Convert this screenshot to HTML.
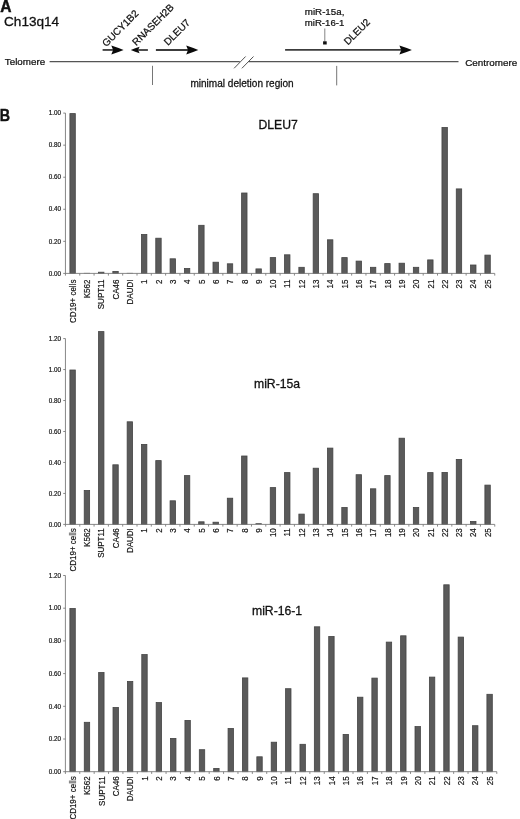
<!DOCTYPE html>
<html><head><meta charset="utf-8"><style>
html,body{margin:0;padding:0;background:#fff;}
body{width:520px;height:819px;overflow:hidden;font-family:"Liberation Sans", sans-serif;}
svg{display:block;filter:grayscale(1);}
</style></head><body>
<svg width="520" height="819" viewBox="0 0 520 819" font-family='"Liberation Sans", sans-serif'><text x="0.2" y="11.6" font-size="15.6" font-weight="bold" fill="#111" stroke="#111" stroke-width="0.45" >A</text>
<text x="4" y="26" font-size="13.6" fill="#111" stroke="#111" stroke-width="0.3" >Ch13q14</text>
<text x="4.8" y="65.4" font-size="9.8" fill="#111" stroke="#111" stroke-width="0.245" >Telomere</text>
<text x="465.2" y="65.8" font-size="9.85" fill="#111" stroke="#111" stroke-width="0.246" >Centromere</text>
<line x1="49.6" y1="61.6" x2="239.8" y2="61.6" stroke="#555" stroke-width="1.3"/>
<line x1="248.6" y1="61.6" x2="458.5" y2="61.6" stroke="#555" stroke-width="1.3"/>
<line x1="234.1" y1="68.3" x2="245.6" y2="56.5" stroke="#4a4a4a" stroke-width="0.95"/>
<line x1="241.9" y1="68.3" x2="253.5" y2="56.5" stroke="#4a4a4a" stroke-width="0.95"/>
<line x1="152.5" y1="65.8" x2="152.5" y2="85" stroke="#666" stroke-width="0.9"/>
<line x1="336.7" y1="65.9" x2="336.7" y2="85.4" stroke="#666" stroke-width="0.9"/>
<text x="190.4" y="86.9" font-size="10.05" fill="#111" stroke="#111" stroke-width="0.251" >minimal deletion region</text>
<line x1="102.6" y1="49.95" x2="113.10" y2="49.95" stroke="#3c3c3c" stroke-width="1.8"/><path d="M123.6,49.95 Q117.45,47.43 111.30,45.45 Q112.38,48.15 113.10,49.95 Q112.38,51.75 111.30,54.45 Q117.45,52.47 123.6,49.95 Z" fill="#0a0a0a"/>
<line x1="147.9" y1="50.0" x2="138.20" y2="50.0" stroke="#3c3c3c" stroke-width="1.8"/><path d="M130.8,50.0 Q135.20,48.21 139.60,46.80 Q138.76,48.72 138.20,50.0 Q138.76,51.28 139.60,53.20 Q135.20,51.79 130.8,50.0 Z" fill="#0a0a0a"/>
<line x1="155.9" y1="50.0" x2="188.00" y2="50.0" stroke="#3c3c3c" stroke-width="1.8"/><path d="M198.3,50.0 Q192.25,47.48 186.20,45.50 Q187.28,48.20 188.00,50.0 Q187.28,51.80 186.20,54.50 Q192.25,52.52 198.3,50.0 Z" fill="#0a0a0a"/>
<line x1="285.1" y1="49.95" x2="401.20" y2="49.95" stroke="#3c3c3c" stroke-width="1.8"/><path d="M411.9,49.95 Q405.65,47.43 399.40,45.45 Q400.48,48.15 401.20,49.95 Q400.48,51.75 399.40,54.45 Q405.65,52.47 411.9,49.95 Z" fill="#0a0a0a"/>
<line x1="324.8" y1="28.5" x2="324.8" y2="41.5" stroke="#666" stroke-width="0.8"/>
<rect x="323.1" y="41.3" width="3.6" height="3.2" fill="#111"/>
<text x="304.8" y="14.9" font-size="9.75" fill="#111" stroke="#111" stroke-width="0.244" >miR-15a,</text>
<text x="304.8" y="25.5" font-size="9.6" fill="#111" stroke="#111" stroke-width="0.24" >miR-16-1</text>
<text x="0" y="0" font-size="10" fill="#111" stroke="#111" stroke-width="0.25" transform="translate(106.2 47.2) rotate(-45)">GUCY1B2</text>
<text x="0" y="0" font-size="10" fill="#111" stroke="#111" stroke-width="0.25" transform="translate(136.3 46.2) rotate(-45)">RNASEH2B</text>
<text x="0" y="0" font-size="10" fill="#111" stroke="#111" stroke-width="0.25" transform="translate(168.0 46.0) rotate(-45)">DLEU7</text>
<text x="0" y="0" font-size="10" fill="#111" stroke="#111" stroke-width="0.25" transform="translate(348.0 45.5) rotate(-45)">DLEU2</text>
<text x="0" y="0" font-size="17.2" font-weight="bold" fill="#111" stroke="#111" stroke-width="0.45" transform="translate(-0.2 120.5) scale(0.83 1)">B</text>
<rect x="69.91" y="113.60" width="5.40" height="159.80" fill="#5a5a5a" stroke="#444" stroke-width="0.8"/>
<rect x="83.82" y="272.90" width="6.2" height="0.50" fill="#484848"/>
<rect x="98.53" y="272.20" width="5.40" height="1.20" fill="#5a5a5a" stroke="#444" stroke-width="0.8"/>
<rect x="112.84" y="271.40" width="5.40" height="2.00" fill="#5a5a5a" stroke="#444" stroke-width="0.8"/>
<rect x="126.75" y="272.90" width="6.2" height="0.50" fill="#484848"/>
<rect x="141.46" y="234.50" width="5.40" height="38.90" fill="#5a5a5a" stroke="#444" stroke-width="0.8"/>
<rect x="155.77" y="238.20" width="5.40" height="35.20" fill="#5a5a5a" stroke="#444" stroke-width="0.8"/>
<rect x="170.08" y="258.80" width="5.40" height="14.60" fill="#5a5a5a" stroke="#444" stroke-width="0.8"/>
<rect x="184.39" y="268.50" width="5.40" height="4.90" fill="#5a5a5a" stroke="#444" stroke-width="0.8"/>
<rect x="198.69" y="225.30" width="5.40" height="48.10" fill="#5a5a5a" stroke="#444" stroke-width="0.8"/>
<rect x="213.00" y="262.20" width="5.40" height="11.20" fill="#5a5a5a" stroke="#444" stroke-width="0.8"/>
<rect x="227.31" y="263.80" width="5.40" height="9.60" fill="#5a5a5a" stroke="#444" stroke-width="0.8"/>
<rect x="241.62" y="193.00" width="5.40" height="80.40" fill="#5a5a5a" stroke="#444" stroke-width="0.8"/>
<rect x="255.94" y="268.90" width="5.40" height="4.50" fill="#5a5a5a" stroke="#444" stroke-width="0.8"/>
<rect x="270.24" y="257.60" width="5.40" height="15.80" fill="#5a5a5a" stroke="#444" stroke-width="0.8"/>
<rect x="284.55" y="254.80" width="5.40" height="18.60" fill="#5a5a5a" stroke="#444" stroke-width="0.8"/>
<rect x="298.86" y="267.30" width="5.40" height="6.10" fill="#5a5a5a" stroke="#444" stroke-width="0.8"/>
<rect x="313.17" y="193.70" width="5.40" height="79.70" fill="#5a5a5a" stroke="#444" stroke-width="0.8"/>
<rect x="327.48" y="239.80" width="5.40" height="33.60" fill="#5a5a5a" stroke="#444" stroke-width="0.8"/>
<rect x="341.79" y="257.60" width="5.40" height="15.80" fill="#5a5a5a" stroke="#444" stroke-width="0.8"/>
<rect x="356.10" y="261.10" width="5.40" height="12.30" fill="#5a5a5a" stroke="#444" stroke-width="0.8"/>
<rect x="370.41" y="267.30" width="5.40" height="6.10" fill="#5a5a5a" stroke="#444" stroke-width="0.8"/>
<rect x="384.72" y="263.60" width="5.40" height="9.80" fill="#5a5a5a" stroke="#444" stroke-width="0.8"/>
<rect x="399.03" y="263.20" width="5.40" height="10.20" fill="#5a5a5a" stroke="#444" stroke-width="0.8"/>
<rect x="413.34" y="267.30" width="5.40" height="6.10" fill="#5a5a5a" stroke="#444" stroke-width="0.8"/>
<rect x="427.65" y="259.90" width="5.40" height="13.50" fill="#5a5a5a" stroke="#444" stroke-width="0.8"/>
<rect x="441.96" y="127.50" width="5.40" height="145.90" fill="#5a5a5a" stroke="#444" stroke-width="0.8"/>
<rect x="456.27" y="188.90" width="5.40" height="84.50" fill="#5a5a5a" stroke="#444" stroke-width="0.8"/>
<rect x="470.58" y="265.00" width="5.40" height="8.40" fill="#5a5a5a" stroke="#444" stroke-width="0.8"/>
<rect x="484.89" y="255.10" width="5.40" height="18.30" fill="#5a5a5a" stroke="#444" stroke-width="0.8"/>
<line x1="65.45" y1="113.10" x2="65.45" y2="273.4" stroke="#7a7a7a" stroke-width="0.9"/>
<line x1="63.25" y1="273.40" x2="65.45" y2="273.40" stroke="#7a7a7a" stroke-width="0.9"/>
<text x="60.9" y="275.6" font-size="6.3" fill="#111" stroke="#111" stroke-width="0.18" text-anchor="end">0.00</text>
<line x1="63.25" y1="241.34" x2="65.45" y2="241.34" stroke="#7a7a7a" stroke-width="0.9"/>
<text x="60.9" y="243.54" font-size="6.3" fill="#111" stroke="#111" stroke-width="0.18" text-anchor="end">0.20</text>
<line x1="63.25" y1="209.28" x2="65.45" y2="209.28" stroke="#7a7a7a" stroke-width="0.9"/>
<text x="60.9" y="211.48" font-size="6.3" fill="#111" stroke="#111" stroke-width="0.18" text-anchor="end">0.40</text>
<line x1="63.25" y1="177.22" x2="65.45" y2="177.22" stroke="#7a7a7a" stroke-width="0.9"/>
<text x="60.9" y="179.42" font-size="6.3" fill="#111" stroke="#111" stroke-width="0.18" text-anchor="end">0.60</text>
<line x1="63.25" y1="145.16" x2="65.45" y2="145.16" stroke="#7a7a7a" stroke-width="0.9"/>
<text x="60.9" y="147.36" font-size="6.3" fill="#111" stroke="#111" stroke-width="0.18" text-anchor="end">0.80</text>
<line x1="63.25" y1="113.10" x2="65.45" y2="113.10" stroke="#7a7a7a" stroke-width="0.9"/>
<text x="60.9" y="115.3" font-size="6.3" fill="#111" stroke="#111" stroke-width="0.18" text-anchor="end">1.00</text>
<line x1="65.0" y1="273.4" x2="494.75" y2="273.4" stroke="#7a7a7a" stroke-width="0.9"/>
<line x1="65.45" y1="273.4" x2="65.45" y2="275.59999999999997" stroke="#7a7a7a" stroke-width="0.9"/>
<line x1="79.76" y1="273.4" x2="79.76" y2="275.59999999999997" stroke="#7a7a7a" stroke-width="0.9"/>
<line x1="94.07" y1="273.4" x2="94.07" y2="275.59999999999997" stroke="#7a7a7a" stroke-width="0.9"/>
<line x1="108.38" y1="273.4" x2="108.38" y2="275.59999999999997" stroke="#7a7a7a" stroke-width="0.9"/>
<line x1="122.69" y1="273.4" x2="122.69" y2="275.59999999999997" stroke="#7a7a7a" stroke-width="0.9"/>
<line x1="137.00" y1="273.4" x2="137.00" y2="275.59999999999997" stroke="#7a7a7a" stroke-width="0.9"/>
<line x1="151.31" y1="273.4" x2="151.31" y2="275.59999999999997" stroke="#7a7a7a" stroke-width="0.9"/>
<line x1="165.62" y1="273.4" x2="165.62" y2="275.59999999999997" stroke="#7a7a7a" stroke-width="0.9"/>
<line x1="179.93" y1="273.4" x2="179.93" y2="275.59999999999997" stroke="#7a7a7a" stroke-width="0.9"/>
<line x1="194.24" y1="273.4" x2="194.24" y2="275.59999999999997" stroke="#7a7a7a" stroke-width="0.9"/>
<line x1="208.55" y1="273.4" x2="208.55" y2="275.59999999999997" stroke="#7a7a7a" stroke-width="0.9"/>
<line x1="222.86" y1="273.4" x2="222.86" y2="275.59999999999997" stroke="#7a7a7a" stroke-width="0.9"/>
<line x1="237.17" y1="273.4" x2="237.17" y2="275.59999999999997" stroke="#7a7a7a" stroke-width="0.9"/>
<line x1="251.48" y1="273.4" x2="251.48" y2="275.59999999999997" stroke="#7a7a7a" stroke-width="0.9"/>
<line x1="265.79" y1="273.4" x2="265.79" y2="275.59999999999997" stroke="#7a7a7a" stroke-width="0.9"/>
<line x1="280.10" y1="273.4" x2="280.10" y2="275.59999999999997" stroke="#7a7a7a" stroke-width="0.9"/>
<line x1="294.41" y1="273.4" x2="294.41" y2="275.59999999999997" stroke="#7a7a7a" stroke-width="0.9"/>
<line x1="308.72" y1="273.4" x2="308.72" y2="275.59999999999997" stroke="#7a7a7a" stroke-width="0.9"/>
<line x1="323.03" y1="273.4" x2="323.03" y2="275.59999999999997" stroke="#7a7a7a" stroke-width="0.9"/>
<line x1="337.34" y1="273.4" x2="337.34" y2="275.59999999999997" stroke="#7a7a7a" stroke-width="0.9"/>
<line x1="351.65" y1="273.4" x2="351.65" y2="275.59999999999997" stroke="#7a7a7a" stroke-width="0.9"/>
<line x1="365.96" y1="273.4" x2="365.96" y2="275.59999999999997" stroke="#7a7a7a" stroke-width="0.9"/>
<line x1="380.27" y1="273.4" x2="380.27" y2="275.59999999999997" stroke="#7a7a7a" stroke-width="0.9"/>
<line x1="394.58" y1="273.4" x2="394.58" y2="275.59999999999997" stroke="#7a7a7a" stroke-width="0.9"/>
<line x1="408.89" y1="273.4" x2="408.89" y2="275.59999999999997" stroke="#7a7a7a" stroke-width="0.9"/>
<line x1="423.20" y1="273.4" x2="423.20" y2="275.59999999999997" stroke="#7a7a7a" stroke-width="0.9"/>
<line x1="437.51" y1="273.4" x2="437.51" y2="275.59999999999997" stroke="#7a7a7a" stroke-width="0.9"/>
<line x1="451.82" y1="273.4" x2="451.82" y2="275.59999999999997" stroke="#7a7a7a" stroke-width="0.9"/>
<line x1="466.13" y1="273.4" x2="466.13" y2="275.59999999999997" stroke="#7a7a7a" stroke-width="0.9"/>
<line x1="480.44" y1="273.4" x2="480.44" y2="275.59999999999997" stroke="#7a7a7a" stroke-width="0.9"/>
<line x1="494.75" y1="273.4" x2="494.75" y2="275.59999999999997" stroke="#7a7a7a" stroke-width="0.9"/>
<text x="0" y="0" font-size="8" fill="#111" stroke="#111" stroke-width="0.16" text-anchor="end" transform="translate(75.81 279.60) rotate(-90) scale(1 1.12)">CD19+ cells</text>
<text x="0" y="0" font-size="8" fill="#111" stroke="#111" stroke-width="0.16" text-anchor="end" transform="translate(90.12 279.60) rotate(-90) scale(1 1.12)">K562</text>
<text x="0" y="0" font-size="8" fill="#111" stroke="#111" stroke-width="0.16" text-anchor="end" transform="translate(104.42 279.60) rotate(-90) scale(1 1.12)">SUPT11</text>
<text x="0" y="0" font-size="8" fill="#111" stroke="#111" stroke-width="0.16" text-anchor="end" transform="translate(118.73 279.60) rotate(-90) scale(1 1.12)">CA46</text>
<text x="0" y="0" font-size="8" fill="#111" stroke="#111" stroke-width="0.16" text-anchor="end" transform="translate(133.04 279.60) rotate(-90) scale(1 1.12)">DAUDI</text>
<text x="0" y="0" font-size="8" fill="#111" stroke="#111" stroke-width="0.16" text-anchor="end" transform="translate(147.35 279.60) rotate(-90) scale(1 1.12)">1</text>
<text x="0" y="0" font-size="8" fill="#111" stroke="#111" stroke-width="0.16" text-anchor="end" transform="translate(161.66 279.60) rotate(-90) scale(1 1.12)">2</text>
<text x="0" y="0" font-size="8" fill="#111" stroke="#111" stroke-width="0.16" text-anchor="end" transform="translate(175.97 279.60) rotate(-90) scale(1 1.12)">3</text>
<text x="0" y="0" font-size="8" fill="#111" stroke="#111" stroke-width="0.16" text-anchor="end" transform="translate(190.28 279.60) rotate(-90) scale(1 1.12)">4</text>
<text x="0" y="0" font-size="8" fill="#111" stroke="#111" stroke-width="0.16" text-anchor="end" transform="translate(204.59 279.60) rotate(-90) scale(1 1.12)">5</text>
<text x="0" y="0" font-size="8" fill="#111" stroke="#111" stroke-width="0.16" text-anchor="end" transform="translate(218.90 279.60) rotate(-90) scale(1 1.12)">6</text>
<text x="0" y="0" font-size="8" fill="#111" stroke="#111" stroke-width="0.16" text-anchor="end" transform="translate(233.21 279.60) rotate(-90) scale(1 1.12)">7</text>
<text x="0" y="0" font-size="8" fill="#111" stroke="#111" stroke-width="0.16" text-anchor="end" transform="translate(247.52 279.60) rotate(-90) scale(1 1.12)">8</text>
<text x="0" y="0" font-size="8" fill="#111" stroke="#111" stroke-width="0.16" text-anchor="end" transform="translate(261.83 279.60) rotate(-90) scale(1 1.12)">9</text>
<text x="0" y="0" font-size="8" fill="#111" stroke="#111" stroke-width="0.16" text-anchor="end" transform="translate(276.14 279.60) rotate(-90) scale(1 1.12)">10</text>
<text x="0" y="0" font-size="8" fill="#111" stroke="#111" stroke-width="0.16" text-anchor="end" transform="translate(290.45 279.60) rotate(-90) scale(1 1.12)">11</text>
<text x="0" y="0" font-size="8" fill="#111" stroke="#111" stroke-width="0.16" text-anchor="end" transform="translate(304.76 279.60) rotate(-90) scale(1 1.12)">12</text>
<text x="0" y="0" font-size="8" fill="#111" stroke="#111" stroke-width="0.16" text-anchor="end" transform="translate(319.07 279.60) rotate(-90) scale(1 1.12)">13</text>
<text x="0" y="0" font-size="8" fill="#111" stroke="#111" stroke-width="0.16" text-anchor="end" transform="translate(333.38 279.60) rotate(-90) scale(1 1.12)">14</text>
<text x="0" y="0" font-size="8" fill="#111" stroke="#111" stroke-width="0.16" text-anchor="end" transform="translate(347.69 279.60) rotate(-90) scale(1 1.12)">15</text>
<text x="0" y="0" font-size="8" fill="#111" stroke="#111" stroke-width="0.16" text-anchor="end" transform="translate(362.00 279.60) rotate(-90) scale(1 1.12)">16</text>
<text x="0" y="0" font-size="8" fill="#111" stroke="#111" stroke-width="0.16" text-anchor="end" transform="translate(376.31 279.60) rotate(-90) scale(1 1.12)">17</text>
<text x="0" y="0" font-size="8" fill="#111" stroke="#111" stroke-width="0.16" text-anchor="end" transform="translate(390.62 279.60) rotate(-90) scale(1 1.12)">18</text>
<text x="0" y="0" font-size="8" fill="#111" stroke="#111" stroke-width="0.16" text-anchor="end" transform="translate(404.94 279.60) rotate(-90) scale(1 1.12)">19</text>
<text x="0" y="0" font-size="8" fill="#111" stroke="#111" stroke-width="0.16" text-anchor="end" transform="translate(419.25 279.60) rotate(-90) scale(1 1.12)">20</text>
<text x="0" y="0" font-size="8" fill="#111" stroke="#111" stroke-width="0.16" text-anchor="end" transform="translate(433.56 279.60) rotate(-90) scale(1 1.12)">21</text>
<text x="0" y="0" font-size="8" fill="#111" stroke="#111" stroke-width="0.16" text-anchor="end" transform="translate(447.87 279.60) rotate(-90) scale(1 1.12)">22</text>
<text x="0" y="0" font-size="8" fill="#111" stroke="#111" stroke-width="0.16" text-anchor="end" transform="translate(462.18 279.60) rotate(-90) scale(1 1.12)">23</text>
<text x="0" y="0" font-size="8" fill="#111" stroke="#111" stroke-width="0.16" text-anchor="end" transform="translate(476.49 279.60) rotate(-90) scale(1 1.12)">24</text>
<text x="0" y="0" font-size="8" fill="#111" stroke="#111" stroke-width="0.16" text-anchor="end" transform="translate(490.80 279.60) rotate(-90) scale(1 1.12)">25</text>
<text x="258.5" y="129.3" font-size="12.2" fill="#111" stroke="#111" stroke-width="0.3" >DLEU7</text>
<rect x="69.91" y="370.00" width="5.40" height="154.40" fill="#5a5a5a" stroke="#444" stroke-width="0.8"/>
<rect x="84.22" y="490.50" width="5.40" height="33.90" fill="#5a5a5a" stroke="#444" stroke-width="0.8"/>
<rect x="98.53" y="331.60" width="5.40" height="192.80" fill="#5a5a5a" stroke="#444" stroke-width="0.8"/>
<rect x="112.84" y="464.80" width="5.40" height="59.60" fill="#5a5a5a" stroke="#444" stroke-width="0.8"/>
<rect x="127.15" y="421.80" width="5.40" height="102.60" fill="#5a5a5a" stroke="#444" stroke-width="0.8"/>
<rect x="141.46" y="444.40" width="5.40" height="80.00" fill="#5a5a5a" stroke="#444" stroke-width="0.8"/>
<rect x="155.77" y="460.60" width="5.40" height="63.80" fill="#5a5a5a" stroke="#444" stroke-width="0.8"/>
<rect x="170.08" y="500.80" width="5.40" height="23.60" fill="#5a5a5a" stroke="#444" stroke-width="0.8"/>
<rect x="184.39" y="475.60" width="5.40" height="48.80" fill="#5a5a5a" stroke="#444" stroke-width="0.8"/>
<rect x="198.69" y="521.80" width="5.40" height="2.60" fill="#5a5a5a" stroke="#444" stroke-width="0.8"/>
<rect x="213.00" y="522.20" width="5.40" height="2.20" fill="#5a5a5a" stroke="#444" stroke-width="0.8"/>
<rect x="227.31" y="498.20" width="5.40" height="26.20" fill="#5a5a5a" stroke="#444" stroke-width="0.8"/>
<rect x="241.62" y="456.00" width="5.40" height="68.40" fill="#5a5a5a" stroke="#444" stroke-width="0.8"/>
<rect x="255.53" y="523.20" width="6.2" height="1.20" fill="#484848"/>
<rect x="270.24" y="487.60" width="5.40" height="36.80" fill="#5a5a5a" stroke="#444" stroke-width="0.8"/>
<rect x="284.55" y="472.60" width="5.40" height="51.80" fill="#5a5a5a" stroke="#444" stroke-width="0.8"/>
<rect x="298.86" y="514.10" width="5.40" height="10.30" fill="#5a5a5a" stroke="#444" stroke-width="0.8"/>
<rect x="313.17" y="468.20" width="5.40" height="56.20" fill="#5a5a5a" stroke="#444" stroke-width="0.8"/>
<rect x="327.48" y="448.10" width="5.40" height="76.30" fill="#5a5a5a" stroke="#444" stroke-width="0.8"/>
<rect x="341.79" y="507.50" width="5.40" height="16.90" fill="#5a5a5a" stroke="#444" stroke-width="0.8"/>
<rect x="356.10" y="474.70" width="5.40" height="49.70" fill="#5a5a5a" stroke="#444" stroke-width="0.8"/>
<rect x="370.41" y="488.80" width="5.40" height="35.60" fill="#5a5a5a" stroke="#444" stroke-width="0.8"/>
<rect x="384.72" y="475.60" width="5.40" height="48.80" fill="#5a5a5a" stroke="#444" stroke-width="0.8"/>
<rect x="399.03" y="438.20" width="5.40" height="86.20" fill="#5a5a5a" stroke="#444" stroke-width="0.8"/>
<rect x="413.34" y="507.50" width="5.40" height="16.90" fill="#5a5a5a" stroke="#444" stroke-width="0.8"/>
<rect x="427.65" y="472.60" width="5.40" height="51.80" fill="#5a5a5a" stroke="#444" stroke-width="0.8"/>
<rect x="441.96" y="472.40" width="5.40" height="52.00" fill="#5a5a5a" stroke="#444" stroke-width="0.8"/>
<rect x="456.27" y="459.40" width="5.40" height="65.00" fill="#5a5a5a" stroke="#444" stroke-width="0.8"/>
<rect x="470.58" y="521.50" width="5.40" height="2.90" fill="#5a5a5a" stroke="#444" stroke-width="0.8"/>
<rect x="484.89" y="485.10" width="5.40" height="39.30" fill="#5a5a5a" stroke="#444" stroke-width="0.8"/>
<line x1="65.45" y1="338.58" x2="65.45" y2="524.4" stroke="#7a7a7a" stroke-width="0.9"/>
<line x1="63.25" y1="524.40" x2="65.45" y2="524.40" stroke="#7a7a7a" stroke-width="0.9"/>
<text x="60.9" y="526.6" font-size="6.3" fill="#111" stroke="#111" stroke-width="0.18" text-anchor="end">0.00</text>
<line x1="63.25" y1="493.43" x2="65.45" y2="493.43" stroke="#7a7a7a" stroke-width="0.9"/>
<text x="60.9" y="495.63" font-size="6.3" fill="#111" stroke="#111" stroke-width="0.18" text-anchor="end">0.20</text>
<line x1="63.25" y1="462.46" x2="65.45" y2="462.46" stroke="#7a7a7a" stroke-width="0.9"/>
<text x="60.9" y="464.66" font-size="6.3" fill="#111" stroke="#111" stroke-width="0.18" text-anchor="end">0.40</text>
<line x1="63.25" y1="431.49" x2="65.45" y2="431.49" stroke="#7a7a7a" stroke-width="0.9"/>
<text x="60.9" y="433.69" font-size="6.3" fill="#111" stroke="#111" stroke-width="0.18" text-anchor="end">0.60</text>
<line x1="63.25" y1="400.52" x2="65.45" y2="400.52" stroke="#7a7a7a" stroke-width="0.9"/>
<text x="60.9" y="402.72" font-size="6.3" fill="#111" stroke="#111" stroke-width="0.18" text-anchor="end">0.80</text>
<line x1="63.25" y1="369.55" x2="65.45" y2="369.55" stroke="#7a7a7a" stroke-width="0.9"/>
<text x="60.9" y="371.75" font-size="6.3" fill="#111" stroke="#111" stroke-width="0.18" text-anchor="end">1.00</text>
<line x1="63.25" y1="338.58" x2="65.45" y2="338.58" stroke="#7a7a7a" stroke-width="0.9"/>
<text x="60.9" y="340.78" font-size="6.3" fill="#111" stroke="#111" stroke-width="0.18" text-anchor="end">1.20</text>
<line x1="65.0" y1="524.4" x2="494.75" y2="524.4" stroke="#7a7a7a" stroke-width="0.9"/>
<line x1="65.45" y1="524.4" x2="65.45" y2="526.6" stroke="#7a7a7a" stroke-width="0.9"/>
<line x1="79.76" y1="524.4" x2="79.76" y2="526.6" stroke="#7a7a7a" stroke-width="0.9"/>
<line x1="94.07" y1="524.4" x2="94.07" y2="526.6" stroke="#7a7a7a" stroke-width="0.9"/>
<line x1="108.38" y1="524.4" x2="108.38" y2="526.6" stroke="#7a7a7a" stroke-width="0.9"/>
<line x1="122.69" y1="524.4" x2="122.69" y2="526.6" stroke="#7a7a7a" stroke-width="0.9"/>
<line x1="137.00" y1="524.4" x2="137.00" y2="526.6" stroke="#7a7a7a" stroke-width="0.9"/>
<line x1="151.31" y1="524.4" x2="151.31" y2="526.6" stroke="#7a7a7a" stroke-width="0.9"/>
<line x1="165.62" y1="524.4" x2="165.62" y2="526.6" stroke="#7a7a7a" stroke-width="0.9"/>
<line x1="179.93" y1="524.4" x2="179.93" y2="526.6" stroke="#7a7a7a" stroke-width="0.9"/>
<line x1="194.24" y1="524.4" x2="194.24" y2="526.6" stroke="#7a7a7a" stroke-width="0.9"/>
<line x1="208.55" y1="524.4" x2="208.55" y2="526.6" stroke="#7a7a7a" stroke-width="0.9"/>
<line x1="222.86" y1="524.4" x2="222.86" y2="526.6" stroke="#7a7a7a" stroke-width="0.9"/>
<line x1="237.17" y1="524.4" x2="237.17" y2="526.6" stroke="#7a7a7a" stroke-width="0.9"/>
<line x1="251.48" y1="524.4" x2="251.48" y2="526.6" stroke="#7a7a7a" stroke-width="0.9"/>
<line x1="265.79" y1="524.4" x2="265.79" y2="526.6" stroke="#7a7a7a" stroke-width="0.9"/>
<line x1="280.10" y1="524.4" x2="280.10" y2="526.6" stroke="#7a7a7a" stroke-width="0.9"/>
<line x1="294.41" y1="524.4" x2="294.41" y2="526.6" stroke="#7a7a7a" stroke-width="0.9"/>
<line x1="308.72" y1="524.4" x2="308.72" y2="526.6" stroke="#7a7a7a" stroke-width="0.9"/>
<line x1="323.03" y1="524.4" x2="323.03" y2="526.6" stroke="#7a7a7a" stroke-width="0.9"/>
<line x1="337.34" y1="524.4" x2="337.34" y2="526.6" stroke="#7a7a7a" stroke-width="0.9"/>
<line x1="351.65" y1="524.4" x2="351.65" y2="526.6" stroke="#7a7a7a" stroke-width="0.9"/>
<line x1="365.96" y1="524.4" x2="365.96" y2="526.6" stroke="#7a7a7a" stroke-width="0.9"/>
<line x1="380.27" y1="524.4" x2="380.27" y2="526.6" stroke="#7a7a7a" stroke-width="0.9"/>
<line x1="394.58" y1="524.4" x2="394.58" y2="526.6" stroke="#7a7a7a" stroke-width="0.9"/>
<line x1="408.89" y1="524.4" x2="408.89" y2="526.6" stroke="#7a7a7a" stroke-width="0.9"/>
<line x1="423.20" y1="524.4" x2="423.20" y2="526.6" stroke="#7a7a7a" stroke-width="0.9"/>
<line x1="437.51" y1="524.4" x2="437.51" y2="526.6" stroke="#7a7a7a" stroke-width="0.9"/>
<line x1="451.82" y1="524.4" x2="451.82" y2="526.6" stroke="#7a7a7a" stroke-width="0.9"/>
<line x1="466.13" y1="524.4" x2="466.13" y2="526.6" stroke="#7a7a7a" stroke-width="0.9"/>
<line x1="480.44" y1="524.4" x2="480.44" y2="526.6" stroke="#7a7a7a" stroke-width="0.9"/>
<line x1="494.75" y1="524.4" x2="494.75" y2="526.6" stroke="#7a7a7a" stroke-width="0.9"/>
<text x="0" y="0" font-size="8" fill="#111" stroke="#111" stroke-width="0.16" text-anchor="end" transform="translate(75.81 528.20) rotate(-90) scale(1 1.12)">CD19+ cells</text>
<text x="0" y="0" font-size="8" fill="#111" stroke="#111" stroke-width="0.16" text-anchor="end" transform="translate(90.12 528.20) rotate(-90) scale(1 1.12)">K562</text>
<text x="0" y="0" font-size="8" fill="#111" stroke="#111" stroke-width="0.16" text-anchor="end" transform="translate(104.42 528.20) rotate(-90) scale(1 1.12)">SUPT11</text>
<text x="0" y="0" font-size="8" fill="#111" stroke="#111" stroke-width="0.16" text-anchor="end" transform="translate(118.73 528.20) rotate(-90) scale(1 1.12)">CA46</text>
<text x="0" y="0" font-size="8" fill="#111" stroke="#111" stroke-width="0.16" text-anchor="end" transform="translate(133.04 528.20) rotate(-90) scale(1 1.12)">DAUDI</text>
<text x="0" y="0" font-size="8" fill="#111" stroke="#111" stroke-width="0.16" text-anchor="end" transform="translate(147.35 528.20) rotate(-90) scale(1 1.12)">1</text>
<text x="0" y="0" font-size="8" fill="#111" stroke="#111" stroke-width="0.16" text-anchor="end" transform="translate(161.66 528.20) rotate(-90) scale(1 1.12)">2</text>
<text x="0" y="0" font-size="8" fill="#111" stroke="#111" stroke-width="0.16" text-anchor="end" transform="translate(175.97 528.20) rotate(-90) scale(1 1.12)">3</text>
<text x="0" y="0" font-size="8" fill="#111" stroke="#111" stroke-width="0.16" text-anchor="end" transform="translate(190.28 528.20) rotate(-90) scale(1 1.12)">4</text>
<text x="0" y="0" font-size="8" fill="#111" stroke="#111" stroke-width="0.16" text-anchor="end" transform="translate(204.59 528.20) rotate(-90) scale(1 1.12)">5</text>
<text x="0" y="0" font-size="8" fill="#111" stroke="#111" stroke-width="0.16" text-anchor="end" transform="translate(218.90 528.20) rotate(-90) scale(1 1.12)">6</text>
<text x="0" y="0" font-size="8" fill="#111" stroke="#111" stroke-width="0.16" text-anchor="end" transform="translate(233.21 528.20) rotate(-90) scale(1 1.12)">7</text>
<text x="0" y="0" font-size="8" fill="#111" stroke="#111" stroke-width="0.16" text-anchor="end" transform="translate(247.52 528.20) rotate(-90) scale(1 1.12)">8</text>
<text x="0" y="0" font-size="8" fill="#111" stroke="#111" stroke-width="0.16" text-anchor="end" transform="translate(261.83 528.20) rotate(-90) scale(1 1.12)">9</text>
<text x="0" y="0" font-size="8" fill="#111" stroke="#111" stroke-width="0.16" text-anchor="end" transform="translate(276.14 528.20) rotate(-90) scale(1 1.12)">10</text>
<text x="0" y="0" font-size="8" fill="#111" stroke="#111" stroke-width="0.16" text-anchor="end" transform="translate(290.45 528.20) rotate(-90) scale(1 1.12)">11</text>
<text x="0" y="0" font-size="8" fill="#111" stroke="#111" stroke-width="0.16" text-anchor="end" transform="translate(304.76 528.20) rotate(-90) scale(1 1.12)">12</text>
<text x="0" y="0" font-size="8" fill="#111" stroke="#111" stroke-width="0.16" text-anchor="end" transform="translate(319.07 528.20) rotate(-90) scale(1 1.12)">13</text>
<text x="0" y="0" font-size="8" fill="#111" stroke="#111" stroke-width="0.16" text-anchor="end" transform="translate(333.38 528.20) rotate(-90) scale(1 1.12)">14</text>
<text x="0" y="0" font-size="8" fill="#111" stroke="#111" stroke-width="0.16" text-anchor="end" transform="translate(347.69 528.20) rotate(-90) scale(1 1.12)">15</text>
<text x="0" y="0" font-size="8" fill="#111" stroke="#111" stroke-width="0.16" text-anchor="end" transform="translate(362.00 528.20) rotate(-90) scale(1 1.12)">16</text>
<text x="0" y="0" font-size="8" fill="#111" stroke="#111" stroke-width="0.16" text-anchor="end" transform="translate(376.31 528.20) rotate(-90) scale(1 1.12)">17</text>
<text x="0" y="0" font-size="8" fill="#111" stroke="#111" stroke-width="0.16" text-anchor="end" transform="translate(390.62 528.20) rotate(-90) scale(1 1.12)">18</text>
<text x="0" y="0" font-size="8" fill="#111" stroke="#111" stroke-width="0.16" text-anchor="end" transform="translate(404.94 528.20) rotate(-90) scale(1 1.12)">19</text>
<text x="0" y="0" font-size="8" fill="#111" stroke="#111" stroke-width="0.16" text-anchor="end" transform="translate(419.25 528.20) rotate(-90) scale(1 1.12)">20</text>
<text x="0" y="0" font-size="8" fill="#111" stroke="#111" stroke-width="0.16" text-anchor="end" transform="translate(433.56 528.20) rotate(-90) scale(1 1.12)">21</text>
<text x="0" y="0" font-size="8" fill="#111" stroke="#111" stroke-width="0.16" text-anchor="end" transform="translate(447.87 528.20) rotate(-90) scale(1 1.12)">22</text>
<text x="0" y="0" font-size="8" fill="#111" stroke="#111" stroke-width="0.16" text-anchor="end" transform="translate(462.18 528.20) rotate(-90) scale(1 1.12)">23</text>
<text x="0" y="0" font-size="8" fill="#111" stroke="#111" stroke-width="0.16" text-anchor="end" transform="translate(476.49 528.20) rotate(-90) scale(1 1.12)">24</text>
<text x="0" y="0" font-size="8" fill="#111" stroke="#111" stroke-width="0.16" text-anchor="end" transform="translate(490.80 528.20) rotate(-90) scale(1 1.12)">25</text>
<text x="254" y="388" font-size="12.2" fill="#111" stroke="#111" stroke-width="0.3" >miR-15a</text>
<rect x="69.89" y="608.50" width="5.40" height="163.20" fill="#5a5a5a" stroke="#444" stroke-width="0.8"/>
<rect x="84.27" y="722.30" width="5.40" height="49.40" fill="#5a5a5a" stroke="#444" stroke-width="0.8"/>
<rect x="98.65" y="672.50" width="5.40" height="99.20" fill="#5a5a5a" stroke="#444" stroke-width="0.8"/>
<rect x="113.03" y="707.50" width="5.40" height="64.20" fill="#5a5a5a" stroke="#444" stroke-width="0.8"/>
<rect x="127.41" y="681.50" width="5.40" height="90.20" fill="#5a5a5a" stroke="#444" stroke-width="0.8"/>
<rect x="141.79" y="654.60" width="5.40" height="117.10" fill="#5a5a5a" stroke="#444" stroke-width="0.8"/>
<rect x="156.17" y="702.60" width="5.40" height="69.10" fill="#5a5a5a" stroke="#444" stroke-width="0.8"/>
<rect x="170.55" y="738.40" width="5.40" height="33.30" fill="#5a5a5a" stroke="#444" stroke-width="0.8"/>
<rect x="184.93" y="720.40" width="5.40" height="51.30" fill="#5a5a5a" stroke="#444" stroke-width="0.8"/>
<rect x="199.31" y="749.70" width="5.40" height="22.00" fill="#5a5a5a" stroke="#444" stroke-width="0.8"/>
<rect x="213.69" y="768.40" width="5.40" height="3.30" fill="#5a5a5a" stroke="#444" stroke-width="0.8"/>
<rect x="228.07" y="728.50" width="5.40" height="43.20" fill="#5a5a5a" stroke="#444" stroke-width="0.8"/>
<rect x="242.45" y="677.90" width="5.40" height="93.80" fill="#5a5a5a" stroke="#444" stroke-width="0.8"/>
<rect x="256.83" y="756.80" width="5.40" height="14.90" fill="#5a5a5a" stroke="#444" stroke-width="0.8"/>
<rect x="271.21" y="742.20" width="5.40" height="29.50" fill="#5a5a5a" stroke="#444" stroke-width="0.8"/>
<rect x="285.59" y="688.70" width="5.40" height="83.00" fill="#5a5a5a" stroke="#444" stroke-width="0.8"/>
<rect x="299.97" y="744.30" width="5.40" height="27.40" fill="#5a5a5a" stroke="#444" stroke-width="0.8"/>
<rect x="314.35" y="626.80" width="5.40" height="144.90" fill="#5a5a5a" stroke="#444" stroke-width="0.8"/>
<rect x="328.73" y="636.50" width="5.40" height="135.20" fill="#5a5a5a" stroke="#444" stroke-width="0.8"/>
<rect x="343.11" y="734.40" width="5.40" height="37.30" fill="#5a5a5a" stroke="#444" stroke-width="0.8"/>
<rect x="357.49" y="697.20" width="5.40" height="74.50" fill="#5a5a5a" stroke="#444" stroke-width="0.8"/>
<rect x="371.87" y="678.10" width="5.40" height="93.60" fill="#5a5a5a" stroke="#444" stroke-width="0.8"/>
<rect x="386.25" y="642.10" width="5.40" height="129.60" fill="#5a5a5a" stroke="#444" stroke-width="0.8"/>
<rect x="400.63" y="635.80" width="5.40" height="135.90" fill="#5a5a5a" stroke="#444" stroke-width="0.8"/>
<rect x="415.01" y="726.60" width="5.40" height="45.10" fill="#5a5a5a" stroke="#444" stroke-width="0.8"/>
<rect x="429.39" y="677.10" width="5.40" height="94.60" fill="#5a5a5a" stroke="#444" stroke-width="0.8"/>
<rect x="443.77" y="584.80" width="5.40" height="186.90" fill="#5a5a5a" stroke="#444" stroke-width="0.8"/>
<rect x="458.15" y="637.10" width="5.40" height="134.60" fill="#5a5a5a" stroke="#444" stroke-width="0.8"/>
<rect x="472.53" y="725.70" width="5.40" height="46.00" fill="#5a5a5a" stroke="#444" stroke-width="0.8"/>
<rect x="486.91" y="694.30" width="5.40" height="77.40" fill="#5a5a5a" stroke="#444" stroke-width="0.8"/>
<line x1="65.4" y1="575.50" x2="65.4" y2="771.7" stroke="#7a7a7a" stroke-width="0.9"/>
<line x1="63.2" y1="771.70" x2="65.4" y2="771.70" stroke="#7a7a7a" stroke-width="0.9"/>
<text x="60.9" y="773.9" font-size="6.3" fill="#111" stroke="#111" stroke-width="0.18" text-anchor="end">0.00</text>
<line x1="63.2" y1="739.00" x2="65.4" y2="739.00" stroke="#7a7a7a" stroke-width="0.9"/>
<text x="60.9" y="741.2" font-size="6.3" fill="#111" stroke="#111" stroke-width="0.18" text-anchor="end">0.20</text>
<line x1="63.2" y1="706.30" x2="65.4" y2="706.30" stroke="#7a7a7a" stroke-width="0.9"/>
<text x="60.9" y="708.5" font-size="6.3" fill="#111" stroke="#111" stroke-width="0.18" text-anchor="end">0.40</text>
<line x1="63.2" y1="673.60" x2="65.4" y2="673.60" stroke="#7a7a7a" stroke-width="0.9"/>
<text x="60.9" y="675.8" font-size="6.3" fill="#111" stroke="#111" stroke-width="0.18" text-anchor="end">0.60</text>
<line x1="63.2" y1="640.90" x2="65.4" y2="640.90" stroke="#7a7a7a" stroke-width="0.9"/>
<text x="60.9" y="643.1" font-size="6.3" fill="#111" stroke="#111" stroke-width="0.18" text-anchor="end">0.80</text>
<line x1="63.2" y1="608.20" x2="65.4" y2="608.20" stroke="#7a7a7a" stroke-width="0.9"/>
<text x="60.9" y="610.4" font-size="6.3" fill="#111" stroke="#111" stroke-width="0.18" text-anchor="end">1.00</text>
<line x1="63.2" y1="575.50" x2="65.4" y2="575.50" stroke="#7a7a7a" stroke-width="0.9"/>
<text x="60.9" y="577.7" font-size="6.3" fill="#111" stroke="#111" stroke-width="0.18" text-anchor="end">1.20</text>
<line x1="64.95" y1="771.7" x2="496.80" y2="771.7" stroke="#7a7a7a" stroke-width="0.9"/>
<line x1="65.40" y1="771.7" x2="65.40" y2="773.9000000000001" stroke="#7a7a7a" stroke-width="0.9"/>
<line x1="79.78" y1="771.7" x2="79.78" y2="773.9000000000001" stroke="#7a7a7a" stroke-width="0.9"/>
<line x1="94.16" y1="771.7" x2="94.16" y2="773.9000000000001" stroke="#7a7a7a" stroke-width="0.9"/>
<line x1="108.54" y1="771.7" x2="108.54" y2="773.9000000000001" stroke="#7a7a7a" stroke-width="0.9"/>
<line x1="122.92" y1="771.7" x2="122.92" y2="773.9000000000001" stroke="#7a7a7a" stroke-width="0.9"/>
<line x1="137.30" y1="771.7" x2="137.30" y2="773.9000000000001" stroke="#7a7a7a" stroke-width="0.9"/>
<line x1="151.68" y1="771.7" x2="151.68" y2="773.9000000000001" stroke="#7a7a7a" stroke-width="0.9"/>
<line x1="166.06" y1="771.7" x2="166.06" y2="773.9000000000001" stroke="#7a7a7a" stroke-width="0.9"/>
<line x1="180.44" y1="771.7" x2="180.44" y2="773.9000000000001" stroke="#7a7a7a" stroke-width="0.9"/>
<line x1="194.82" y1="771.7" x2="194.82" y2="773.9000000000001" stroke="#7a7a7a" stroke-width="0.9"/>
<line x1="209.20" y1="771.7" x2="209.20" y2="773.9000000000001" stroke="#7a7a7a" stroke-width="0.9"/>
<line x1="223.58" y1="771.7" x2="223.58" y2="773.9000000000001" stroke="#7a7a7a" stroke-width="0.9"/>
<line x1="237.96" y1="771.7" x2="237.96" y2="773.9000000000001" stroke="#7a7a7a" stroke-width="0.9"/>
<line x1="252.34" y1="771.7" x2="252.34" y2="773.9000000000001" stroke="#7a7a7a" stroke-width="0.9"/>
<line x1="266.72" y1="771.7" x2="266.72" y2="773.9000000000001" stroke="#7a7a7a" stroke-width="0.9"/>
<line x1="281.10" y1="771.7" x2="281.10" y2="773.9000000000001" stroke="#7a7a7a" stroke-width="0.9"/>
<line x1="295.48" y1="771.7" x2="295.48" y2="773.9000000000001" stroke="#7a7a7a" stroke-width="0.9"/>
<line x1="309.86" y1="771.7" x2="309.86" y2="773.9000000000001" stroke="#7a7a7a" stroke-width="0.9"/>
<line x1="324.24" y1="771.7" x2="324.24" y2="773.9000000000001" stroke="#7a7a7a" stroke-width="0.9"/>
<line x1="338.62" y1="771.7" x2="338.62" y2="773.9000000000001" stroke="#7a7a7a" stroke-width="0.9"/>
<line x1="353.00" y1="771.7" x2="353.00" y2="773.9000000000001" stroke="#7a7a7a" stroke-width="0.9"/>
<line x1="367.38" y1="771.7" x2="367.38" y2="773.9000000000001" stroke="#7a7a7a" stroke-width="0.9"/>
<line x1="381.76" y1="771.7" x2="381.76" y2="773.9000000000001" stroke="#7a7a7a" stroke-width="0.9"/>
<line x1="396.14" y1="771.7" x2="396.14" y2="773.9000000000001" stroke="#7a7a7a" stroke-width="0.9"/>
<line x1="410.52" y1="771.7" x2="410.52" y2="773.9000000000001" stroke="#7a7a7a" stroke-width="0.9"/>
<line x1="424.90" y1="771.7" x2="424.90" y2="773.9000000000001" stroke="#7a7a7a" stroke-width="0.9"/>
<line x1="439.28" y1="771.7" x2="439.28" y2="773.9000000000001" stroke="#7a7a7a" stroke-width="0.9"/>
<line x1="453.66" y1="771.7" x2="453.66" y2="773.9000000000001" stroke="#7a7a7a" stroke-width="0.9"/>
<line x1="468.04" y1="771.7" x2="468.04" y2="773.9000000000001" stroke="#7a7a7a" stroke-width="0.9"/>
<line x1="482.42" y1="771.7" x2="482.42" y2="773.9000000000001" stroke="#7a7a7a" stroke-width="0.9"/>
<line x1="496.80" y1="771.7" x2="496.80" y2="773.9000000000001" stroke="#7a7a7a" stroke-width="0.9"/>
<text x="0" y="0" font-size="8" fill="#111" stroke="#111" stroke-width="0.16" text-anchor="end" transform="translate(75.79 776.30) rotate(-90) scale(1 1.12)">CD19+ cells</text>
<text x="0" y="0" font-size="8" fill="#111" stroke="#111" stroke-width="0.16" text-anchor="end" transform="translate(90.17 776.30) rotate(-90) scale(1 1.12)">K562</text>
<text x="0" y="0" font-size="8" fill="#111" stroke="#111" stroke-width="0.16" text-anchor="end" transform="translate(104.55 776.30) rotate(-90) scale(1 1.12)">SUPT11</text>
<text x="0" y="0" font-size="8" fill="#111" stroke="#111" stroke-width="0.16" text-anchor="end" transform="translate(118.93 776.30) rotate(-90) scale(1 1.12)">CA46</text>
<text x="0" y="0" font-size="8" fill="#111" stroke="#111" stroke-width="0.16" text-anchor="end" transform="translate(133.31 776.30) rotate(-90) scale(1 1.12)">DAUDI</text>
<text x="0" y="0" font-size="8" fill="#111" stroke="#111" stroke-width="0.16" text-anchor="end" transform="translate(147.69 776.30) rotate(-90) scale(1 1.12)">1</text>
<text x="0" y="0" font-size="8" fill="#111" stroke="#111" stroke-width="0.16" text-anchor="end" transform="translate(162.07 776.30) rotate(-90) scale(1 1.12)">2</text>
<text x="0" y="0" font-size="8" fill="#111" stroke="#111" stroke-width="0.16" text-anchor="end" transform="translate(176.45 776.30) rotate(-90) scale(1 1.12)">3</text>
<text x="0" y="0" font-size="8" fill="#111" stroke="#111" stroke-width="0.16" text-anchor="end" transform="translate(190.83 776.30) rotate(-90) scale(1 1.12)">4</text>
<text x="0" y="0" font-size="8" fill="#111" stroke="#111" stroke-width="0.16" text-anchor="end" transform="translate(205.21 776.30) rotate(-90) scale(1 1.12)">5</text>
<text x="0" y="0" font-size="8" fill="#111" stroke="#111" stroke-width="0.16" text-anchor="end" transform="translate(219.59 776.30) rotate(-90) scale(1 1.12)">6</text>
<text x="0" y="0" font-size="8" fill="#111" stroke="#111" stroke-width="0.16" text-anchor="end" transform="translate(233.97 776.30) rotate(-90) scale(1 1.12)">7</text>
<text x="0" y="0" font-size="8" fill="#111" stroke="#111" stroke-width="0.16" text-anchor="end" transform="translate(248.35 776.30) rotate(-90) scale(1 1.12)">8</text>
<text x="0" y="0" font-size="8" fill="#111" stroke="#111" stroke-width="0.16" text-anchor="end" transform="translate(262.73 776.30) rotate(-90) scale(1 1.12)">9</text>
<text x="0" y="0" font-size="8" fill="#111" stroke="#111" stroke-width="0.16" text-anchor="end" transform="translate(277.11 776.30) rotate(-90) scale(1 1.12)">10</text>
<text x="0" y="0" font-size="8" fill="#111" stroke="#111" stroke-width="0.16" text-anchor="end" transform="translate(291.49 776.30) rotate(-90) scale(1 1.12)">11</text>
<text x="0" y="0" font-size="8" fill="#111" stroke="#111" stroke-width="0.16" text-anchor="end" transform="translate(305.87 776.30) rotate(-90) scale(1 1.12)">12</text>
<text x="0" y="0" font-size="8" fill="#111" stroke="#111" stroke-width="0.16" text-anchor="end" transform="translate(320.25 776.30) rotate(-90) scale(1 1.12)">13</text>
<text x="0" y="0" font-size="8" fill="#111" stroke="#111" stroke-width="0.16" text-anchor="end" transform="translate(334.63 776.30) rotate(-90) scale(1 1.12)">14</text>
<text x="0" y="0" font-size="8" fill="#111" stroke="#111" stroke-width="0.16" text-anchor="end" transform="translate(349.01 776.30) rotate(-90) scale(1 1.12)">15</text>
<text x="0" y="0" font-size="8" fill="#111" stroke="#111" stroke-width="0.16" text-anchor="end" transform="translate(363.39 776.30) rotate(-90) scale(1 1.12)">16</text>
<text x="0" y="0" font-size="8" fill="#111" stroke="#111" stroke-width="0.16" text-anchor="end" transform="translate(377.77 776.30) rotate(-90) scale(1 1.12)">17</text>
<text x="0" y="0" font-size="8" fill="#111" stroke="#111" stroke-width="0.16" text-anchor="end" transform="translate(392.15 776.30) rotate(-90) scale(1 1.12)">18</text>
<text x="0" y="0" font-size="8" fill="#111" stroke="#111" stroke-width="0.16" text-anchor="end" transform="translate(406.53 776.30) rotate(-90) scale(1 1.12)">19</text>
<text x="0" y="0" font-size="8" fill="#111" stroke="#111" stroke-width="0.16" text-anchor="end" transform="translate(420.91 776.30) rotate(-90) scale(1 1.12)">20</text>
<text x="0" y="0" font-size="8" fill="#111" stroke="#111" stroke-width="0.16" text-anchor="end" transform="translate(435.29 776.30) rotate(-90) scale(1 1.12)">21</text>
<text x="0" y="0" font-size="8" fill="#111" stroke="#111" stroke-width="0.16" text-anchor="end" transform="translate(449.67 776.30) rotate(-90) scale(1 1.12)">22</text>
<text x="0" y="0" font-size="8" fill="#111" stroke="#111" stroke-width="0.16" text-anchor="end" transform="translate(464.05 776.30) rotate(-90) scale(1 1.12)">23</text>
<text x="0" y="0" font-size="8" fill="#111" stroke="#111" stroke-width="0.16" text-anchor="end" transform="translate(478.43 776.30) rotate(-90) scale(1 1.12)">24</text>
<text x="0" y="0" font-size="8" fill="#111" stroke="#111" stroke-width="0.16" text-anchor="end" transform="translate(492.81 776.30) rotate(-90) scale(1 1.12)">25</text>
<text x="252" y="615" font-size="12.2" fill="#111" stroke="#111" stroke-width="0.3" >miR-16-1</text></svg>
</body></html>
